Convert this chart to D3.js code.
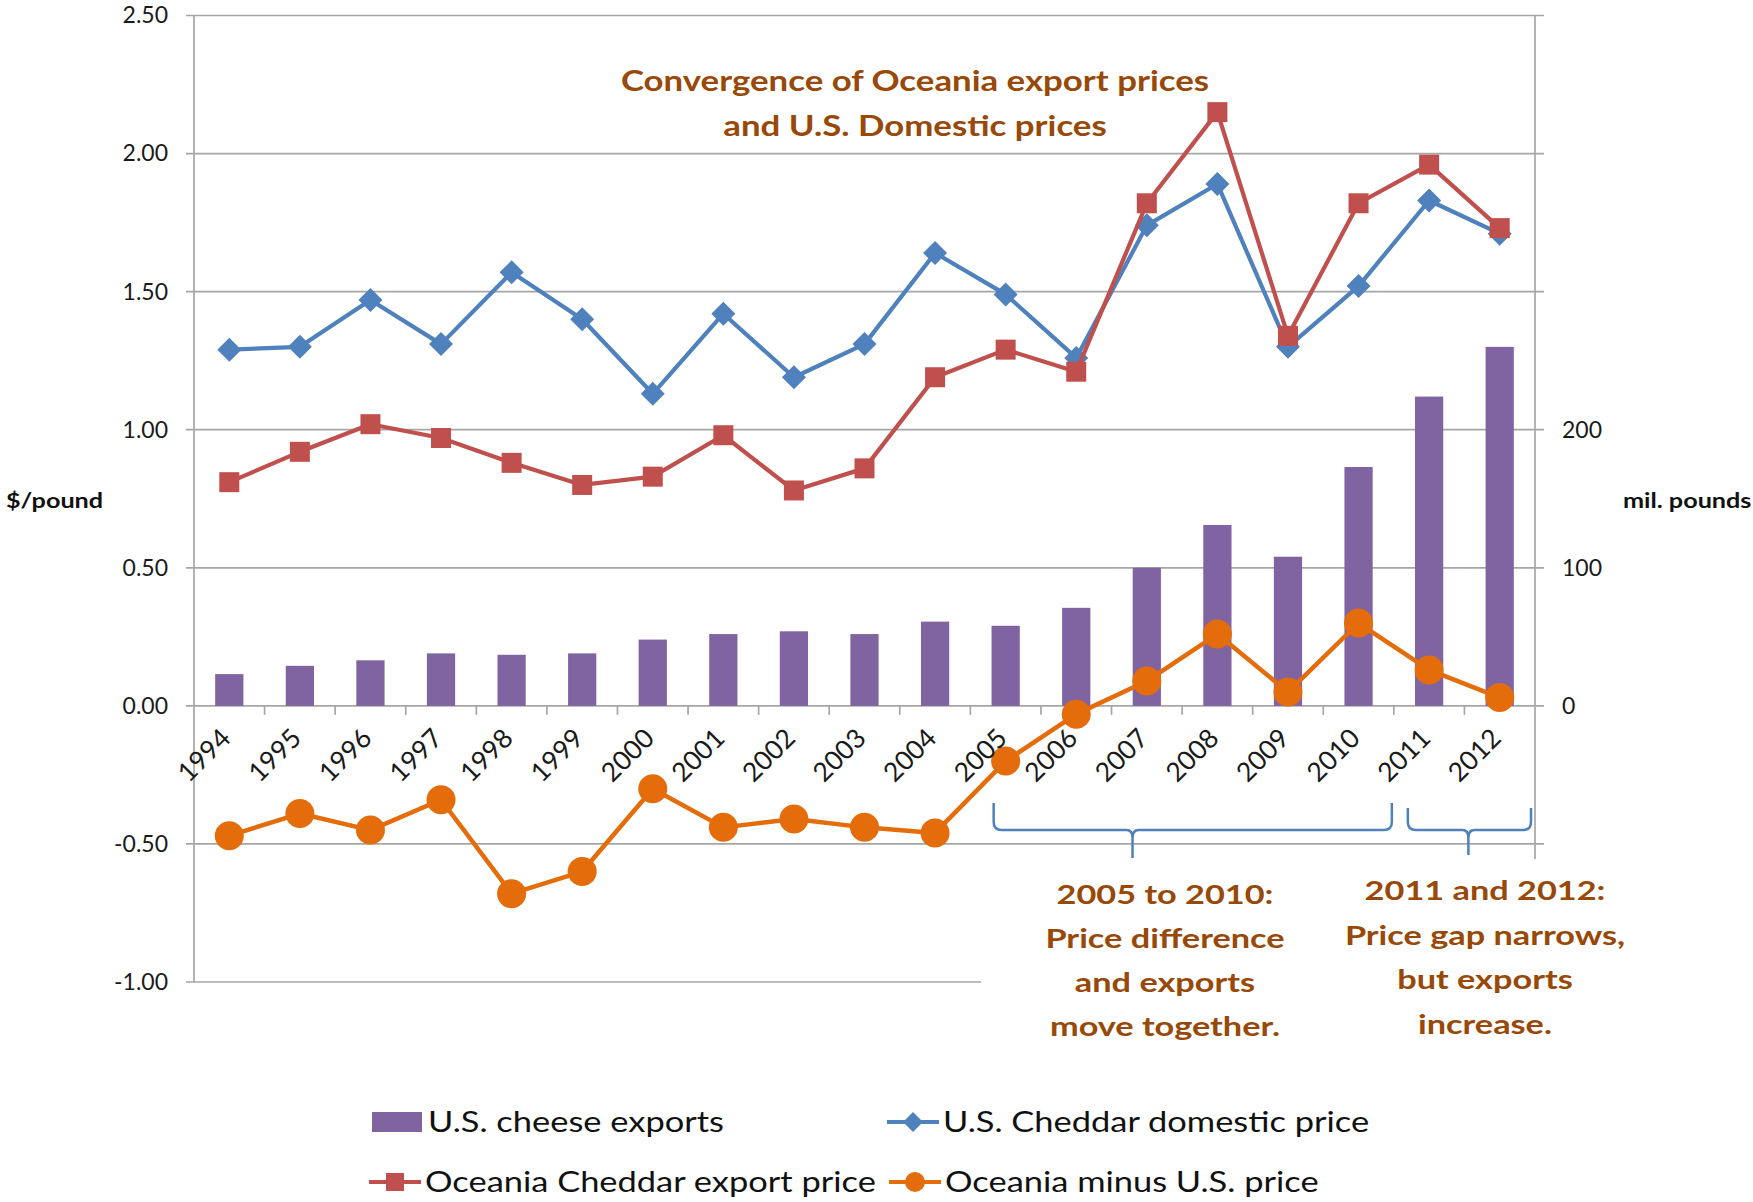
<!DOCTYPE html>
<html>
<head>
<meta charset="utf-8">
<script src="https://cdn.jsdelivr.net/npm/d3@7"></script>
<style>
  body { margin: 0; background: #fff; }
  text { font-family: Lato, "Open Sans", sans-serif; }
</style>
</head>
<body>
<svg id="chart" width="1753" height="1202"></svg>
<script>
// data
const years = ['1994', '1995', '1996', '1997', '1998', '1999', '2000', '2001', '2002', '2003',
  '2004', '2005', '2006', '2007', '2008', '2009', '2010', '2011', '2012'];
const cheeseExports = [23, 29, 33, 38, 37, 38, 48, 52, 54, 52, 61, 58, 71, 100, 131, 108, 173, 224, 260];
const usDomestic = [1.29, 1.30, 1.47, 1.31, 1.57, 1.40, 1.13, 1.42, 1.19, 1.31, 1.64, 1.49, 1.26, 1.74, 1.89, 1.30, 1.52, 1.83, 1.71];
const oceaniaExport = [0.81, 0.92, 1.02, 0.97, 0.88, 0.80, 0.83, 0.98, 0.78, 0.86, 1.19, 1.29, 1.21, 1.82, 2.15, 1.34, 1.82, 1.96, 1.73];
const priceGap = [-0.47, -0.39, -0.45, -0.34, -0.68, -0.60, -0.30, -0.44, -0.41, -0.44, -0.46, -0.20, -0.03, 0.09, 0.26, 0.05, 0.30, 0.13, 0.03];

const leftTicks = [-1, -0.5, 0, 0.5, 1, 1.5, 2, 2.5];
const rightTicks = [0, 100, 200];

const titleLines = ['Convergence of Oceania export prices', 'and U.S. Domestic prices'];
const note1Lines = ['2005 to 2010:', 'Price difference', 'and exports', 'move together.'];
const note2Lines = ['2011 and 2012:', 'Price gap narrows,', 'but exports', 'increase.'];

const colors = { bar: '#8064a2', blue: '#4f81bd', red: '#c0504d', orange: '#e46c0a', grid: '#a6a6a6', note: '#984807' };

const svg = d3.select('#chart');

const x = d3.scaleBand().domain(years).range([194, 1535]);
const y = d3.scaleLinear().domain([-1, 2.5]).range([982, 15.5]);
const yR = d3.scaleLinear().domain([-200, 500]).range([982, 15.5]);
const cx = d => x(d) + x.bandwidth() / 2;

// gridlines (they also make the outer tick marks on both axes)
svg.append('g').selectAll('line').data(leftTicks).join('line')
  .attr('x1', 186).attr('x2', 1544)
  .attr('y1', d => y(d)).attr('y2', d => y(d))
  .attr('stroke', colors.grid).attr('stroke-width', 1.7);

// axis lines
svg.append('line').attr('x1', 194).attr('x2', 194).attr('y1', y(2.5)).attr('y2', y(-1))
  .attr('stroke', colors.grid).attr('stroke-width', 1.7);
svg.append('line').attr('x1', 1535).attr('x2', 1535).attr('y1', y(2.5)).attr('y2', y(-1))
  .attr('stroke', colors.grid).attr('stroke-width', 1.7);

// category tick marks
svg.append('g').selectAll('line').data(years.slice(1)).join('line')
  .attr('x1', d => x(d)).attr('x2', d => x(d))
  .attr('y1', y(0)).attr('y2', y(0) + 9)
  .attr('stroke', colors.grid).attr('stroke-width', 1.7);

// left axis labels
const gl = svg.append('g').attr('transform', 'translate(194,0)')
  .call(d3.axisLeft(y).tickValues(leftTicks).tickFormat(d => d.toFixed(2)).tickSize(0).tickPadding(26));
gl.select('.domain').remove();
gl.selectAll('text').attr('font-size', 23).attr('font-family', 'Lato').attr('fill', '#1a1a1a');

// right axis labels
const gr = svg.append('g').attr('transform', 'translate(1535,0)')
  .call(d3.axisRight(yR).tickValues(rightTicks).tickSize(0).tickPadding(27));
gr.select('.domain').remove();
gr.selectAll('text').attr('font-size', 23).attr('font-family', 'Lato').attr('fill', '#1a1a1a');

// bars
const barW = x.bandwidth() / 2.5;
svg.append('g').selectAll('rect').data(cheeseExports).join('rect')
  .attr('x', (d, i) => cx(years[i]) - barW / 2)
  .attr('y', d => yR(d))
  .attr('width', barW)
  .attr('height', d => yR(0) - yR(d))
  .attr('fill', colors.bar);

const line = d3.line().x((d, i) => cx(years[i])).y(d => y(d));
const diamond = r => `M0,${-r}L${r},0L0,${r}L${-r},0Z`;

// U.S. domestic
svg.append('path').datum(usDomestic).attr('d', line)
  .attr('fill', 'none').attr('stroke', colors.blue).attr('stroke-width', 4.2).attr('stroke-linejoin', 'round');
svg.append('g').selectAll('path').data(usDomestic).join('path')
  .attr('d', diamond(12))
  .attr('transform', (d, i) => `translate(${cx(years[i])},${y(d)})`)
  .attr('fill', colors.blue);

// Oceania export
svg.append('path').datum(oceaniaExport).attr('d', line)
  .attr('fill', 'none').attr('stroke', colors.red).attr('stroke-width', 4.2).attr('stroke-linejoin', 'round');
svg.append('g').selectAll('rect').data(oceaniaExport).join('rect')
  .attr('x', (d, i) => cx(years[i]) - 10).attr('y', d => y(d) - 10)
  .attr('width', 20).attr('height', 20)
  .attr('fill', colors.red);

// gap
svg.append('path').datum(priceGap).attr('d', line)
  .attr('fill', 'none').attr('stroke', colors.orange).attr('stroke-width', 4.5).attr('stroke-linejoin', 'round');
svg.append('g').selectAll('circle').data(priceGap).join('circle')
  .attr('cx', (d, i) => cx(years[i])).attr('cy', d => y(d))
  .attr('r', 14.5)
  .attr('fill', colors.orange);

// year labels
svg.append('g').selectAll('text').data(years).join('text')
  .attr('transform', d => `translate(${cx(d) + 3},740) rotate(-45)`)
  .attr('text-anchor', 'end')
  .attr('font-size', 26.5)
  .attr('fill', '#1a1a1a')
  .text(d => d);

// axis titles
svg.append('text').attr('transform', 'translate(6,508) scale(1.2,1)')
  .attr('font-size', 21).attr('font-weight', 700).attr('fill', '#111').text('$/pound');
svg.append('text').attr('transform', 'translate(1623,508) scale(1.2,1)')
  .attr('font-size', 21).attr('font-weight', 700).attr('fill', '#111').text('mil. pounds');

// text box behind the notes (hides the low gridline)
svg.append('rect').attr('x', 981).attr('y', 859).attr('width', 700).attr('height', 220).attr('fill', '#fff');

// title
svg.append('g').selectAll('text').data(titleLines).join('text')
  .attr('transform', (d, i) => `translate(915,${91 + i * 45}) scale(1.2,1)`)
  .attr('text-anchor', 'middle').attr('font-size', 29).attr('font-weight', 700)
  .attr('fill', colors.note).text(d => d);

svg.append('g').selectAll('text').data(note1Lines).join('text')
  .attr('transform', (d, i) => `translate(1165,${904 + i * 44}) scale(1.27,1)`)
  .attr('text-anchor', 'middle').attr('font-size', 27).attr('font-weight', 700)
  .attr('fill', colors.note).text(d => d);

svg.append('g').selectAll('text').data(note2Lines).join('text')
  .attr('transform', (d, i) => `translate(1485,${900 + i * 44.5}) scale(1.27,1)`)
  .attr('text-anchor', 'middle').attr('font-size', 27).attr('font-weight', 700)
  .attr('fill', colors.note).text(d => d);

// braces
function brace(xl, xr, tip, top, mid, bottom) {
  return `M${xl},${top}L${xl},${mid - 8}Q${xl},${mid} ${xl + 8},${mid}L${tip - 6},${mid}Q${tip},${mid} ${tip},${mid + 8}L${tip},${bottom}`
    + `M${tip},${mid + 8}Q${tip},${mid} ${tip + 6},${mid}L${xr - 8},${mid}Q${xr},${mid} ${xr},${mid - 8}L${xr},${top}`;
}
const bw = x.bandwidth();
svg.append('path')
  .attr('d', brace(cx('2005') - 12, x('2010') + bw - 2, x('2007') + 21, 803, 830, 858))
  .attr('fill', 'none').attr('stroke', colors.blue).attr('stroke-width', 2.5);
svg.append('path')
  .attr('d', brace(x('2011') + 14, x('2012') + bw - 4, x('2012') + 4, 808, 830, 855))
  .attr('fill', 'none').attr('stroke', colors.blue).attr('stroke-width', 2.5);

// legend
const legend = [
  { label: 'U.S. cheese exports', kind: 'bar', color: colors.bar, x: 372, y: 1122 },
  { label: 'U.S. Cheddar domestic price', kind: 'diamond', color: colors.blue, x: 887, y: 1122 },
  { label: 'Oceania Cheddar export price', kind: 'square', color: colors.red, x: 369, y: 1182 },
  { label: 'Oceania minus U.S. price', kind: 'circle', color: colors.orange, x: 889, y: 1182 }
];
const lg = svg.append('g').selectAll('g').data(legend).join('g')
  .attr('transform', d => `translate(${d.x},${d.y})`);
lg.each(function (d) {
  const g = d3.select(this);
  if (d.kind === 'bar') {
    g.append('rect').attr('x', 0).attr('y', -10).attr('width', 50).attr('height', 20).attr('fill', d.color);
  } else {
    g.append('line').attr('x1', 0).attr('x2', 52).attr('stroke', d.color).attr('stroke-width', 4);
    if (d.kind === 'diamond') g.append('path').attr('d', diamond(10)).attr('transform', 'translate(26,0)').attr('fill', d.color);
    if (d.kind === 'square') g.append('rect').attr('x', 17).attr('y', -9).attr('width', 18).attr('height', 18).attr('fill', d.color);
    if (d.kind === 'circle') g.append('circle').attr('cx', 26).attr('r', 10).attr('fill', d.color);
  }
  g.append('text').attr('transform', 'translate(56,10) scale(1.23,1)')
    .attr('font-size', 28).attr('fill', '#111').text(d.label);
});
</script>
</body>
</html>
